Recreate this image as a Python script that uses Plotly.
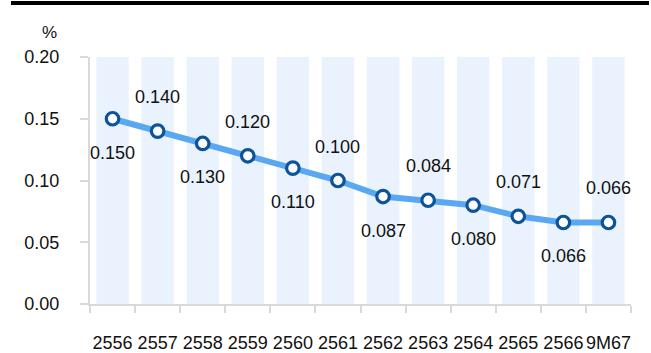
import plotly.graph_objects as go

categories = ["2556", "2557", "2558", "2559", "2560", "2561",
              "2562", "2563", "2564", "2565", "2566", "9M67"]
values = [0.150, 0.140, 0.130, 0.120, 0.110, 0.100,
          0.087, 0.084, 0.080, 0.071, 0.066, 0.066]
value_labels = ["0.150", "0.140", "0.130", "0.120", "0.110", "0.100",
                "0.087", "0.084", "0.080", "0.071", "0.066", "0.066"]
y_ticks = [0.00, 0.05, 0.10, 0.15, 0.20]
y_tick_labels = ["0.00", "0.05", "0.10", "0.15", "0.20"]
y_max = 0.20

FONT = "Liberation Sans, Arial, sans-serif"
FS = 18

# plot-area geometry in pixels (used to place paper-referenced extras)
L, R, T, B = 90, 20, 57, 49
W, H = 651, 353
PW, PH = W - L - R, H - T - B


def px_to_paper(px, py):
    return (px - L) / PW, (H - B - py) / PH


fig = go.Figure()

# light column bands behind each period
fig.add_trace(go.Bar(
    x=categories, y=[y_max] * len(categories),
    marker=dict(color="#EAF3FD", line=dict(width=0)),
    width=0.72, hoverinfo="skip", showlegend=False,
))

# main series
fig.add_trace(go.Scatter(
    x=categories, y=values, mode="lines+markers",
    line=dict(color="#5AA8F2", width=6),
    marker=dict(size=12.5, color="white", line=dict(color="#0D5399", width=3.2)),
    showlegend=False,
))

# value labels, alternating below / above the points
annotations = []
for i, (v, t) in enumerate(zip(values, value_labels)):
    annotations.append(dict(
        x=i, y=v, text=t, showarrow=False, xref="x", yref="y",
        yshift=34 if i % 2 else -34,
        font=dict(family=FONT, size=FS, color="#111111"),
    ))

# unit label above the value axis
ux, uy = px_to_paper(49, 33)
annotations.append(dict(
    x=ux, y=uy, xref="paper", yref="paper", text="%", showarrow=False,
    xanchor="center", yanchor="middle",
    font=dict(family=FONT, size=17, color="#111111"),
))

# heavy rule across the top
x0, y0 = px_to_paper(11, 3)
x1, _ = px_to_paper(649, 3)

fig.update_layout(
    width=W, height=H,
    margin=dict(l=L, r=R, t=T, b=B, autoexpand=False),
    paper_bgcolor="white", plot_bgcolor="white",
    barmode="overlay",
    annotations=annotations,
    shapes=[dict(type="line", xref="paper", yref="paper",
                 x0=x0, x1=x1, y0=y0, y1=y0,
                 line=dict(color="black", width=4))],
)

fig.update_xaxes(
    type="category", range=[-0.5, len(categories) - 0.5],
    showline=True, linecolor="#D9D9D9", linewidth=2,
    ticks="outside", ticklen=7, tickcolor="#D9D9D9", tickwidth=2,
    tickson="boundaries", ticklabelstandoff=21, tickangle=0,
    tickfont=dict(family=FONT, size=FS, color="#111111"),
    showgrid=False, zeroline=False, fixedrange=True, automargin=False,
)
fig.update_yaxes(
    range=[0, y_max], tickvals=y_ticks, ticktext=y_tick_labels,
    showline=True, linecolor="#D9D9D9", linewidth=2,
    ticks="outside", ticklen=8, tickcolor="#D9D9D9", tickwidth=2,
    ticklabelstandoff=17,
    tickfont=dict(family=FONT, size=FS, color="#111111"),
    showgrid=False, zeroline=False, fixedrange=True, automargin=False,
)

fig.write_html("out.html", config={"displayModeBar": False})
